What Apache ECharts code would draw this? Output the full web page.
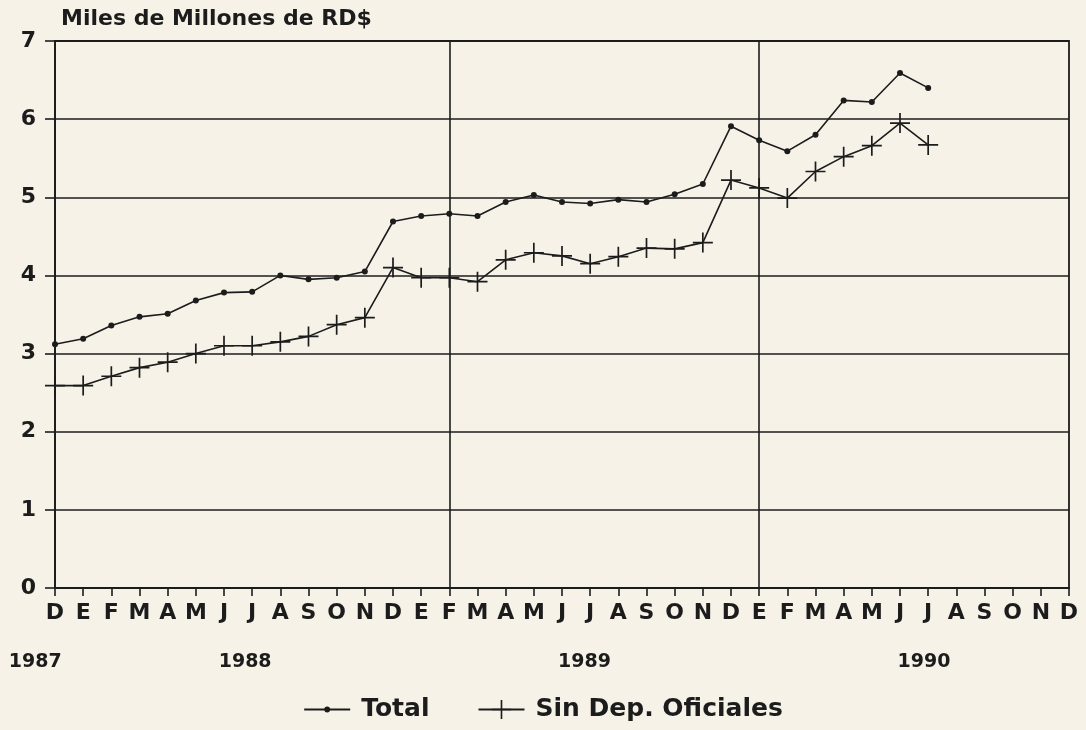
<!DOCTYPE html>
<html>
<head>
<meta charset="utf-8">
<script src="https://cdn.jsdelivr.net/npm/echarts@6/dist/echarts.min.js"></script>
<style>
html,body{margin:0;padding:0;background:#f6f2e8;}
#c{width:1086px;height:730px;}
</style>
</head>
<body>
<div id="c"></div>
<script>
// Months Dec 1987 .. Dec 1990
const months = ['D','E','F','M','A','M','J','J','A','S','O','N','D','E','F','M','A','M','J','J','A','S','O','N','D','E','F','M','A','M','J','J','A','S','O','N','D'];
const totalValues = [3.12,3.19,3.36,3.47,3.51,3.68,3.78,3.79,4.00,3.95,3.97,4.05,4.69,4.76,4.79,4.76,4.94,5.03,4.94,4.92,4.97,4.94,5.04,5.17,5.91,5.73,5.59,5.80,6.24,6.22,6.59,6.40];
const sinDepValues = [2.59,2.59,2.71,2.82,2.89,3.00,3.10,3.10,3.15,3.22,3.37,3.46,4.10,3.97,3.97,3.92,4.20,4.29,4.25,4.15,4.24,4.35,4.34,4.42,5.22,5.12,4.99,5.33,5.52,5.66,5.95,5.67];
const yTicks = [0,1,2,3,4,5,6,7];
const yearLabels = ['1987','1988','1989','1990'];
const yearPos = [-0.7, 6.75, 18.8, 30.85];   // position in month-index units
const vLineIdx = [14, 25];                    // Feb 1989, Jan 1990
const seriesNames = ['Total','Sin Dep. Oficiales'];

const FONT = 'DejaVu Sans';
const INK = '#1c1c1c';
const plusPath = 'path://M-0.85,-10 h1.7 v20 h-1.7 z M-10,-0.85 h20 v1.7 h-20 z';
// small dot inside a 20x20 box so the legend dot stays small
const dotPath = 'path://M-10,-10 L-10,-10 M10,10 L10,10 M3,0 A3,3 0 1,1 -3,0 A3,3 0 1,1 3,0 Z';

const chart = echarts.init(document.getElementById('c'), null, {renderer:'canvas'});
const option = {
  backgroundColor: '#f6f2e8',
  animation: false,
  title: {
    text: 'Miles de Millones de RD$',
    left: 56, top: 3,
    textStyle: {fontFamily: FONT, fontWeight: 'bold', fontSize: 22, color: INK}
  },
  legend: {
    data: seriesNames,
    left: 'center', bottom: 3,
    itemWidth: 46, itemHeight: 24, itemGap: 48,
    textStyle: {fontFamily: FONT, fontWeight: 'bold', fontSize: 25, color: INK, padding: [0, 0, 0, 6]}
  },
  grid: {
    left: 55, right: 17, top: 41, bottom: 142,
    show: true, borderColor: INK, borderWidth: 1.8, backgroundColor: 'transparent'
  },
  xAxis: {
    type: 'category',
    data: months,
    boundaryGap: false,
    axisLine: {lineStyle: {color: INK, width: 1.8}},
    axisTick: {show: true, length: 8, inside: false, interval: 0, lineStyle: {color: INK, width: 1.6}},
    axisLabel: {interval: 0, margin: 14, fontFamily: FONT, fontWeight: 'bold', fontSize: 22, color: INK},
    splitLine: {show: true, interval: (i) => vLineIdx.includes(i), lineStyle: {color: INK, width: 1.6}}
  },
  yAxis: {
    type: 'value',
    min: yTicks[0], max: yTicks[yTicks.length-1], interval: 1,
    axisLine: {show: true, lineStyle: {color: INK, width: 1.8}},
    axisTick: {show: true, length: 10, inside: false, lineStyle: {color: INK, width: 1.6}},
    axisLabel: {margin: 19, fontFamily: FONT, fontWeight: 'bold', fontSize: 22, color: INK},
    splitLine: {show: true, lineStyle: {color: INK, width: 1.6}}
  },
  series: [
    {
      name: seriesNames[0], type: 'line', data: totalValues,
      symbol: dotPath, symbolSize: 20, showAllSymbol: true,
      lineStyle: {color: INK, width: 1.6},
      itemStyle: {color: INK}
    },
    {
      name: seriesNames[1], type: 'line', data: sinDepValues,
      symbol: plusPath, symbolSize: 20, showAllSymbol: true,
      lineStyle: {color: INK, width: 1.6},
      itemStyle: {color: INK}
    }
  ]
};
chart.setOption(option);

const p0 = chart.convertToPixel({xAxisIndex: 0}, 0);
const p1 = chart.convertToPixel({xAxisIndex: 0}, months.length - 1);
const step = (p1 - p0) / (months.length - 1);
chart.setOption({
  graphic: yearLabels.map((t, k) => ({
    type: 'text',
    x: p0 + yearPos[k] * step,
    y: 662,
    style: {text: t, fontFamily: FONT, fontWeight: 'bold', fontSize: 19, fill: INK, align: 'center', verticalAlign: 'middle'}
  }))
});
</script>
</body>
</html>
